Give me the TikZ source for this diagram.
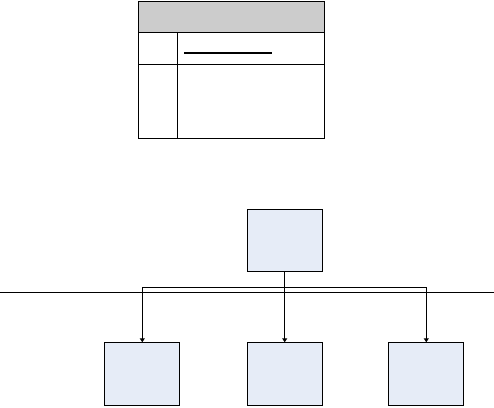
\documentclass[tikz,border=0pt]{standalone}
\usetikzlibrary{arrows.meta}
\definecolor{boxfill}{HTML}{E6ECF7}
\definecolor{headgray}{HTML}{CCCCCC}
\tikzset{
  every path/.style={line width=1pt},
  blk/.style={draw=black, fill=boxfill, line width=1pt},
  conn/.style={draw=black, line width=1pt, -{Triangle[length=4pt,width=5pt]}},
}
\begin{document}
\begin{tikzpicture}[x=1pt,y=-1pt]
\useasboundingbox (0,0) rectangle (494,407);
% table
\fill[headgray] (138,1) rectangle (324,32);
\draw (138,1) rectangle (324,138);
\draw (138,32) -- (324,32);
\draw (138,64) -- (324,64);
\draw (177,32) -- (177,138);
\draw[line width=2pt] (184,53.3) -- (272,53.3);
% boxes
\node[blk, minimum width=75pt, minimum height=62pt, inner sep=0pt, anchor=north west] (top) at (246.7,209.3) {};
\node[blk, minimum width=75pt, minimum height=63pt, inner sep=0pt, anchor=north west] (b1) at (104.3,342.3) {};
\node[blk, minimum width=75pt, minimum height=63pt, inner sep=0pt, anchor=north west] (b2) at (246.7,342.3) {};
\node[blk, minimum width=75pt, minimum height=63pt, inner sep=0pt, anchor=north west] (b3) at (388.3,342.3) {};
% horizontal line
\coordinate (hl) at (0,292.3);
\coordinate (hr) at (494,292.3);
\draw (hl) -- (hr);
% bus
\coordinate (j) at (top.south |- 0,287.3);
\draw (top.south) -- (j);
\draw[conn] (j) -| (b1.north);
\draw[conn] (j) -- (b2.north);
\draw[conn] (j) -| (b3.north);
\end{tikzpicture}
\end{document}
